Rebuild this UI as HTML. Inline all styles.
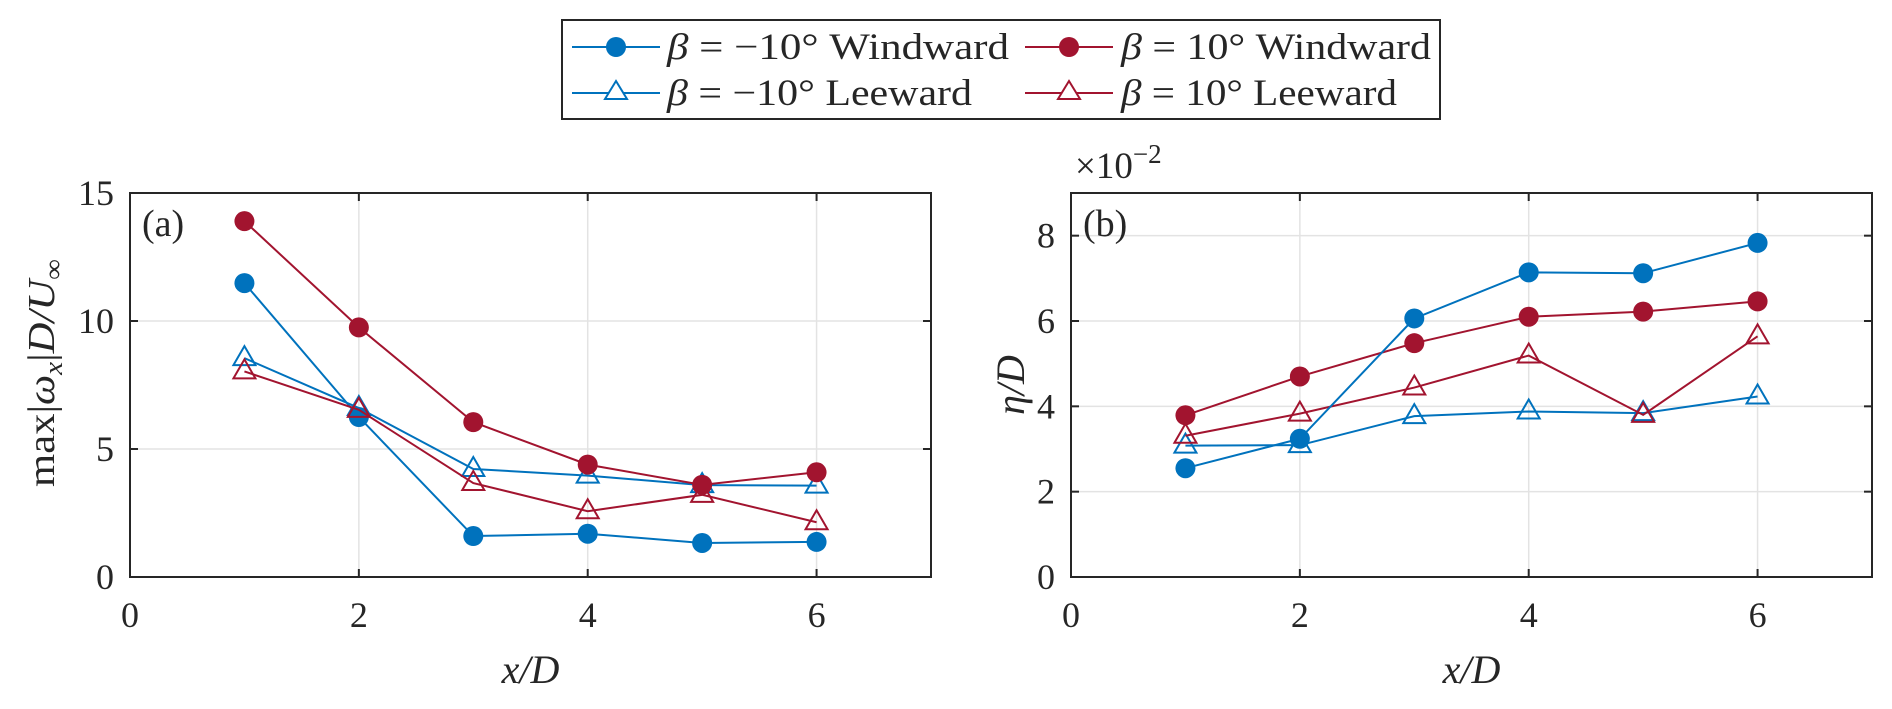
<!DOCTYPE html>
<html><head><meta charset="utf-8">
<style>
html,body{margin:0;padding:0;background:#fff;}
svg{display:block;}
text{font-family:"Liberation Serif","DejaVu Serif",serif;fill:#262626;}
</style></head>
<body>
<svg id="fig" width="1892" height="709" viewBox="0 0 1892 709" xmlns="http://www.w3.org/2000/svg">
<g id="legend">
  <rect x="562" y="20" width="878" height="99" fill="#fff" stroke="#262626" stroke-width="2"/>
  <g>
    <line x1="572" y1="47" x2="660" y2="47" stroke="#0072BD" stroke-width="2"/>
    <circle cx="616" cy="47" r="10" fill="#0072BD"/>
    <text x="667" y="59" font-size="37" textLength="342" lengthAdjust="spacingAndGlyphs"><tspan font-style="italic">β</tspan> = −10° Windward</text>
  </g>
  <g>
    <line x1="1025" y1="47" x2="1113" y2="47" stroke="#A2142F" stroke-width="2"/>
    <circle cx="1069" cy="47" r="10" fill="#A2142F"/>
    <text x="1121" y="59" font-size="37" textLength="310" lengthAdjust="spacingAndGlyphs"><tspan font-style="italic">β</tspan> = 10° Windward</text>
  </g>
  <g>
    <line x1="572" y1="93" x2="660" y2="93" stroke="#0072BD" stroke-width="2"/>
    <polygon points="616,81 627,99 605,99" fill="#fff" stroke="#0072BD" stroke-width="2"/>
    <text x="667" y="105" font-size="37" textLength="305" lengthAdjust="spacingAndGlyphs"><tspan font-style="italic">β</tspan> = −10° Leeward</text>
  </g>
  <g>
    <line x1="1025" y1="93" x2="1113" y2="93" stroke="#A2142F" stroke-width="2"/>
    <polygon points="1069,81 1080,99 1058,99" fill="#fff" stroke="#A2142F" stroke-width="2"/>
    <text x="1121" y="105" font-size="37" textLength="276" lengthAdjust="spacingAndGlyphs"><tspan font-style="italic">β</tspan> = 10° Leeward</text>
  </g>
</g>
</svg>
<script>
// shared x data
const xVals = [1, 2, 3, 4, 5, 6];
const xTicks = [0, 2, 4, 6];
// panel (a)
const aNegWind = [11.48, 6.25, 1.6, 1.69, 1.33, 1.37];
const aPosWind = [13.9, 9.75, 6.05, 4.39, 3.6, 4.09];
const aNegLee = [8.55, 6.6, 4.22, 3.96, 3.59, 3.57];
const aPosLee = [8.03, 6.53, 3.67, 2.57, 3.21, 2.14];
const aYTicks = [0, 5, 10, 15];
// panel (b) (x10^-2)
const bNegWind = [2.55, 3.24, 6.06, 7.14, 7.12, 7.83];
const bPosWind = [3.79, 4.70, 5.48, 6.10, 6.22, 6.46];
const bNegLee = [3.08, 3.09, 3.77, 3.88, 3.84, 4.23];
const bPosLee = [3.31, 3.83, 4.44, 5.19, 3.80, 5.64];
const bYTicks = [0, 2, 4, 6, 8];

const NS = "http://www.w3.org/2000/svg";
const svg = document.getElementById('fig');
function mk(tag, attrs, parent) {
  const e = document.createElementNS(NS, tag);
  for (const k in attrs) e.setAttribute(k, attrs[k]);
  (parent || svg).appendChild(e);
  return e;
}
const BLUE = '#0072BD', RED = '#A2142F';

function panel(opt) {
  const g = mk('g', {});
  
  
  const L = opt.left, R = opt.left + 801, T = 193, B = 577;
  const xs = v => L + (v - 0) / 7 * (R - L);
  const ys = v => B - (v - 0) / opt.ymax * (B - T);
  xTicks.forEach(t => {
    if (t === 0) return;
    const l = mk('line', {x1: xs(t), x2: xs(t), y1: T, y2: B, stroke: '#e3e3e3', 'stroke-width': 1.5}, g);
    
    
  });
  opt.yTicks.forEach(t => {
    if (t === 0 || ys(t) <= T + 1) return;
    const l = mk('line', {x1: L, x2: R, y1: ys(t), y2: ys(t), stroke: '#e3e3e3', 'stroke-width': 1.5}, g);
    
    
  });
  opt.series.forEach(s => {
    const sg = mk('g', {}, g);
    
    
    const pts = xVals.map((x, i) => xs(x) + ',' + ys(s.data[i])).join(' ');
    const pl = mk('polyline', {points: pts, fill: 'none', stroke: s.color, 'stroke-width': 2}, sg);
    
    
    xVals.forEach((x, i) => {
      const cx = xs(x), cy = ys(s.data[i]);
      let m;
      if (s.filled) {
        m = mk('circle', {cx: cx, cy: cy, r: 10, fill: s.color}, sg);
      } else {
        m = mk('polygon', {points: `${cx},${cy - 12} ${cx + 11},${cy + 7} ${cx - 11},${cy + 7}`, fill: 'none', stroke: s.color, 'stroke-width': 2}, sg);
      }
      
      
    });
  });
  const box = mk('rect', {x: L, y: T, width: R - L, height: B - T, fill: 'none', stroke: '#262626', 'stroke-width': 2}, g);
  
  
  xTicks.forEach(t => {
    const x = xs(t);
    mk('line', {x1: x, x2: x, y1: B, y2: B - 8, stroke: '#262626', 'stroke-width': 2}, g);
    mk('line', {x1: x, x2: x, y1: T, y2: T + 8, stroke: '#262626', 'stroke-width': 2}, g);
    const tx = mk('text', {x: x, y: 627, 'font-size': 36, 'text-anchor': 'middle'}, g);
    tx.textContent = t;
    
    
  });
  opt.yTicks.forEach(t => {
    const y = ys(t);
    mk('line', {x1: L, x2: L + 8, y1: y, y2: y, stroke: '#262626', 'stroke-width': 2}, g);
    mk('line', {x1: R, x2: R - 8, y1: y, y2: y, stroke: '#262626', 'stroke-width': 2}, g);
    const tx = mk('text', {x: L - 16, y: y + 12, 'font-size': 36, 'text-anchor': 'end'}, g);
    tx.textContent = t;
    
    
  });
  const tag = mk('text', {x: L + 12, y: T + 43, 'font-size': 38}, g);
  tag.textContent = opt.tag;
  
  
  const xl = mk('text', {x: (L + R) / 2, y: 683, 'font-size': 40, 'text-anchor': 'middle', 'font-style': 'italic'}, g);
  xl.textContent = 'x/D';
  
  
  return {g, L, R, T, B};
}

const pa = panel({name: 'panel-a', left: 130, ymax: 15, yTicks: aYTicks, tag: '(a)', series: [
  {name: 'a-neg10-windward', data: aNegWind, color: BLUE, filled: true},
  {name: 'a-neg10-leeward', data: aNegLee, color: BLUE, filled: false},
  {name: 'a-10-leeward', data: aPosLee, color: RED, filled: false},
  {name: 'a-10-windward', data: aPosWind, color: RED, filled: true}
]});
const pb = panel({name: 'panel-b', left: 1071, ymax: 9, yTicks: bYTicks, tag: '(b)', series: [
  {name: 'b-neg10-leeward', data: bNegLee, color: BLUE, filled: false},
  {name: 'b-10-leeward', data: bPosLee, color: RED, filled: false},
  {name: 'b-10-windward', data: bPosWind, color: RED, filled: true},
  {name: 'b-neg10-windward', data: bNegWind, color: BLUE, filled: true}
]});

const ya = mk('text', {x: 0, y: 0, 'font-size': 38, 'text-anchor': 'middle', transform: 'translate(54,373) rotate(-90)', textLength: 228, lengthAdjust: 'spacingAndGlyphs'});
ya.innerHTML = 'max|<tspan font-style="italic">ω</tspan><tspan font-style="italic" font-size="26" dy="8">x</tspan><tspan dy="-8">|</tspan><tspan font-style="italic">D/U</tspan><tspan font-size="26" dy="8">∞</tspan>';


const yb = mk('text', {x: 0, y: 0, 'font-size': 40, 'text-anchor': 'middle', 'font-style': 'italic', transform: 'translate(1024,385) rotate(-90)'});
yb.textContent = 'η/D';


const ex = mk('text', {x: 1075, y: 178, 'font-size': 37});
ex.innerHTML = '×10<tspan font-size="27" dy="-15">−2</tspan>';


</script>
</body></html>
